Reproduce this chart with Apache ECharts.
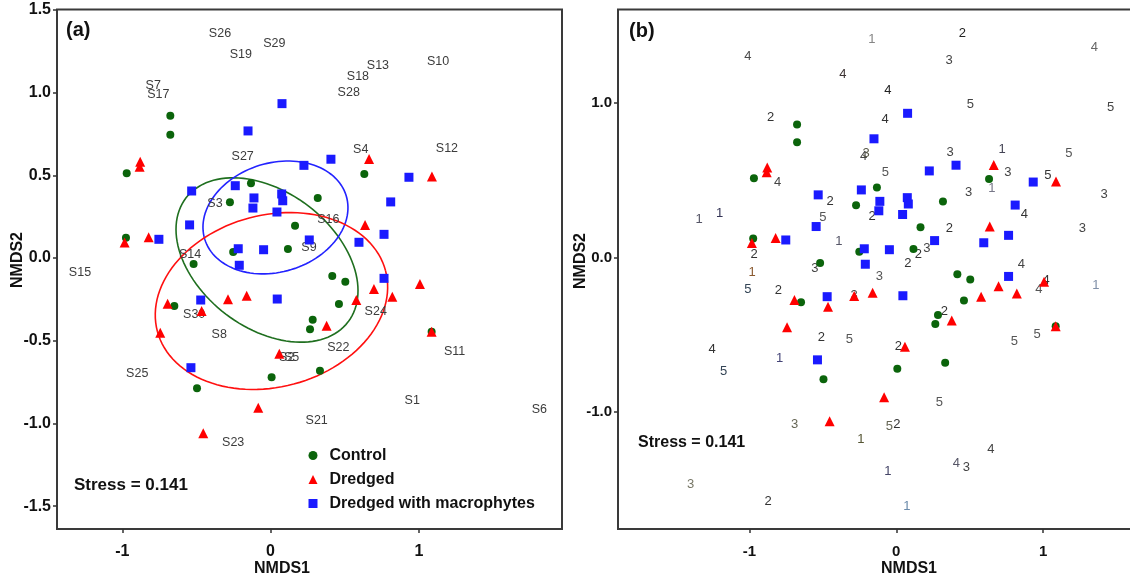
<!DOCTYPE html>
<html><head><meta charset="utf-8">
<script src="https://cdn.jsdelivr.net/npm/echarts@6/dist/echarts.min.js"></script>
<style>html,body{margin:0;padding:0;background:#fff}#c{width:1130px;height:581px}</style>
</head><body><div id="c"></div>
<script>
// ---- site scores (shared by both panels) ----
const controlX = [-0.676,-0.676,-0.970,-0.132,0.632,-0.274,0.318,0.165,-0.975,-0.252,0.117,-0.519,0.416,0.504,0.461,-0.649,0.284,0.266,1.086,0.007,0.333,-0.496];
const controlY = [0.860,0.745,0.512,0.452,0.508,0.337,0.362,0.195,0.123,0.036,0.054,-0.036,-0.109,-0.143,-0.278,-0.290,-0.373,-0.431,-0.446,-0.721,-0.681,-0.788];
const dredgedX = [-0.879,-0.883,0.664,1.088,0.637,-0.984,-0.822,1.007,0.697,0.821,0.578,-0.694,-0.287,-0.161,-0.465,0.378,1.086,-0.744,0.059,-0.083,-0.454];
const dredgedY = [0.582,0.552,0.599,0.492,0.200,0.093,0.125,-0.157,-0.187,-0.234,-0.254,-0.276,-0.250,-0.228,-0.320,-0.409,-0.446,-0.452,-0.579,-0.905,-1.060];
const macroX = [0.077,-0.152,0.407,0.225,0.933,-0.532,-0.238,-0.112,-0.119,0.075,0.082,0.043,0.810,-0.546,0.765,0.596,0.261,-0.753,-0.218,-0.047,-0.211,0.765,-0.471,0.045,-0.537];
const macroY = [0.933,0.768,0.597,0.560,0.488,0.405,0.437,0.363,0.302,0.387,0.346,0.278,0.339,0.200,0.143,0.095,0.109,0.113,0.056,0.050,-0.044,-0.123,-0.254,-0.248,-0.663];

// ---- group ellipses (centre + two conjugate semi-axis vectors, data units) ----
const ellipseGroup = ['Control','Dredged with macrophytes','Dredged'];
const ellipseCX = [-0.024, 0.033, 0.006];
const ellipseCY = [-0.012, 0.245, -0.260];
const ellipseUX = [0.547, 0.477, 0.769];
const ellipseUY = [-0.374, 0.131, 0.184];
const ellipseVX = [-0.278, 0.107, 0.150];
const ellipseVY = [-0.327, -0.315, -0.502];

// ---- species scores, panel (a) ----
const speciesName = ['S26','S29','S19','S7','S17','S27','S13','S10','S18','S28','S4','S12','S3','S14','S15','S30','S8','S25','S2','S5','S16','S9','S24','S22','S11','S21','S1','S6','S23'];
const speciesX = [-0.341,0.025,-0.200,-0.791,-0.757,-0.188,0.724,1.129,0.589,0.527,0.608,1.189,-0.375,-0.543,-1.285,-0.515,-0.346,-0.899,0.109,0.142,0.389,0.259,0.709,0.457,1.241,0.311,0.955,1.812,-0.252];
const speciesY = [1.359,1.296,1.232,1.042,0.990,0.615,1.163,1.189,1.099,1.002,0.653,0.659,0.331,0.020,-0.085,-0.343,-0.464,-0.701,-0.603,-0.603,0.234,0.065,-0.326,-0.540,-0.568,-0.985,-0.859,-0.915,-1.114];

// ---- trait class labels, panel (b) ----
const classText = ['4','4','2','4','2','1','2','4','3','4','5','5','4','1','5','3','4','3','5','3','5','1','3','3','5','1','1','1','2','1','3','5','2','2','5','4','1','5','2','4','2','3','3','2','2','4','3','4','4','1','3','2','5','5','2','3','3','2','5','5','2','1','4','4','3','1','1'];
const classX = [-1.011,-0.364,-0.857,-0.809,-0.450,-0.166,0.451,1.350,0.360,-0.057,0.505,1.461,-0.076,0.721,1.175,0.367,-0.223,-0.205,-0.074,0.760,1.032,0.651,0.492,1.416,-0.500,-1.344,-1.204,-0.391,-0.968,-0.983,-0.554,-1.011,-0.804,-0.511,-0.319,-1.254,-0.795,-1.176,-0.165,0.873,0.362,1.268,0.208,0.151,0.079,0.852,-0.116,1.021,0.971,1.359,-0.287,0.328,0.805,0.959,0.015,-0.693,-1.401,-0.874,0.294,-0.048,0.004,-0.241,0.644,0.410,0.478,-0.057,0.072];
const classY = [1.304,1.187,0.907,0.484,0.360,1.409,1.450,1.362,1.273,1.079,0.993,0.972,0.895,0.702,0.672,0.680,0.656,0.671,0.553,0.549,0.528,0.448,0.422,0.408,0.258,0.248,0.287,0.103,0.020,-0.098,-0.070,-0.204,-0.211,-0.517,-0.530,-0.595,-0.656,-0.740,0.263,0.279,0.190,0.190,0.056,0.022,-0.039,-0.047,-0.122,-0.146,-0.206,-0.184,-0.243,-0.350,-0.544,-0.500,-0.576,-1.083,-1.469,-1.582,-0.937,-1.094,-1.078,-1.180,-1.240,-1.331,-1.361,-1.387,-1.612];
// text colour of each panel (b) label (style list)
const classColor = ['#4a4a4a','#3d3333','#333','#444','#333','#858585','#222','#666','#444','#222','#444','#444','#333','#445','#555','#444','#444','#554','#555','#444','#333','#778','#444','#444','#555','#556','#335','#556','#333','#8a5a30','#444','#345','#333','#333','#555','#333','#447','#345','#333','#333','#333','#444','#444','#333','#333','#444','#555','#333','#555','#8090a8','#444','#333','#555','#555','#333','#665','#776','#333','#555','#665','#333','#553','#444','#556','#444','#446','#6a8aaa'];

const ticksA_X = [-1, 0, 1];
const ticksA_Y = [-1.5, -1.0, -0.5, 0.0, 0.5, 1.0, 1.5];
const ticksB_X = [-1, 0, 1];
const ticksB_Y = [-1.0, 0.0, 1.0];

const stressText = 'Stress = 0.141';

// ------------------------------------------------------------
const FONT = '"Liberation Sans", Arial, sans-serif';
const GREEN = '#0b640b', RED = '#ff0000', BLUE = '#1a1aff';
const ELL_COL = {'Control':'#1f6f1f','Dredged with macrophytes':'#2323ff','Dredged':'#ff1010'};

const pairs = (xs, ys) => xs.map((x, i) => [x, ys[i]]);

function makeAxes(gi, xmin, xmax, ymin, ymax, tx, ty, fs, yDigits) {
  const tickStyle = {show: true, inside: false, length: 4, lineStyle: {color: '#333', width: 1.5}};
  return {
    x: {gridIndex: gi, type: 'value', position: 'bottom', min: xmin, max: xmax, splitLine: {show: false},
        axisLine: {show: false, onZero: false},
        axisTick: Object.assign({customValues: tx}, tickStyle),
        axisLabel: {customValues: tx, fontFamily: FONT, fontSize: fs, fontWeight: 'bold', color: '#111', margin: 15,
                    formatter: v => String(Math.round(v))}},
    y: {gridIndex: gi, type: 'value', position: 'left', min: ymin, max: ymax, splitLine: {show: false},
        axisLine: {show: false, onZero: false},
        axisTick: Object.assign({customValues: ty}, tickStyle),
        axisLabel: {customValues: ty, fontFamily: FONT, fontSize: fs, fontWeight: 'bold', color: '#111', margin: 6,
                    formatter: v => Number(v).toFixed(yDigits)}}
  };
}
const axA = makeAxes(0, -1.440, 1.965, -1.638, 1.502, ticksA_X, ticksA_Y, 16, 1);
const axB = makeAxes(1, -1.896, 2.042, -1.758, 1.605, ticksB_X, ticksB_Y, 15, 1);

function scatterSeries(gi, name, xs, ys, symbol, size, color) {
  return {type: 'scatter', name, xAxisIndex: gi, yAxisIndex: gi, data: pairs(xs, ys),
          symbol, symbolSize: size, itemStyle: {color, opacity: 1}, z: 5, silent: true};
}
function textSeries(gi, names, xs, ys, colorFn, fs) {
  return {type: 'custom', xAxisIndex: gi, yAxisIndex: gi, data: pairs(xs, ys), z: 4, silent: true,
    encode: {x: 0, y: 1},
    renderItem: (params, api) => {
      const p = api.coord([api.value(0), api.value(1)]);
      return {type: 'text', x: p[0], y: p[1],
              style: {text: names[params.dataIndex], fill: colorFn(params.dataIndex), fontFamily: FONT,
                      fontSize: fs, align: 'center', verticalAlign: 'middle'}};
    }};
}
const ellipseSeries = {
  type: 'custom', xAxisIndex: 0, yAxisIndex: 0, z: 3, silent: true,
  data: ellipseGroup.map((g, i) => [ellipseCX[i], ellipseCY[i], ellipseUX[i], ellipseUY[i], ellipseVX[i], ellipseVY[i]]),
  encode: {x: 0, y: 1},
  renderItem: (params, api) => {
    const cx = api.value(0), cy = api.value(1), ux = api.value(2), uy = api.value(3), vx = api.value(4), vy = api.value(5);
    const pts = [];
    for (let k = 0; k <= 120; k++) {
      const t = k / 120 * Math.PI * 2;
      pts.push(api.coord([cx + ux * Math.cos(t) + vx * Math.sin(t), cy + uy * Math.cos(t) + vy * Math.sin(t)]));
    }
    return {type: 'polyline', shape: {points: pts},
            style: {stroke: ELL_COL[ellipseGroup[params.dataIndex]], fill: null, lineWidth: 1.6}};
  }
};

const gridCommon = {show: true, borderColor: '#3a3a3a', borderWidth: 2, backgroundColor: 'transparent', containLabel: false, outerBoundsMode: 'none'};
const txt = (t, x, y, size, bold, align, rot) => ({type: 'text', x, y, rotation: rot || 0,
  style: {text: t, fontFamily: FONT, fontSize: size, fontWeight: bold ? 'bold' : 'normal', fill: '#111', align: align || 'left', verticalAlign: 'middle'}});

const option = {
  animation: false,
  backgroundColor: '#fff',
  grid: [
    Object.assign({left: 57, top: 9.5, width: 505, height: 519.5}, gridCommon),
    Object.assign({left: 618, top: 9.5, width: 578, height: 519.5}, gridCommon)
  ],
  xAxis: [axA.x, axB.x],
  yAxis: [axA.y, axB.y],
  legend: {
    show: true, orient: 'vertical', left: 303.5, top: 442.5, itemWidth: 9, itemHeight: 9, itemGap: 8,
    selectedMode: false,
    textStyle: {fontFamily: FONT, fontSize: 16, fontWeight: 'bold', color: '#111', lineHeight: 16, padding: [0, 0, 0, 7]},
    data: [
      {name: 'Control', icon: 'circle', itemStyle: {color: GREEN}},
      {name: 'Dredged', icon: 'triangle', itemStyle: {color: RED}},
      {name: 'Dredged with macrophytes', icon: 'rect', itemStyle: {color: BLUE}}
    ]
  },
  series: [
    ellipseSeries,
    textSeries(0, speciesName, speciesX, speciesY, () => '#3c3c3c', 12.5),
    scatterSeries(0, 'Control', controlX, controlY, 'circle', 8, GREEN),
    scatterSeries(0, 'Dredged', dredgedX, dredgedY, 'triangle', 10, RED),
    scatterSeries(0, 'Dredged with macrophytes', macroX, macroY, 'rect', 9, BLUE),
    textSeries(1, classText, classX, classY, i => classColor[i], 13),
    scatterSeries(1, 'Control', controlX, controlY, 'circle', 8, GREEN),
    scatterSeries(1, 'Dredged', dredgedX, dredgedY, 'triangle', 10, RED),
    scatterSeries(1, 'Dredged with macrophytes', macroX, macroY, 'rect', 9, BLUE)
  ],
  graphic: [
    txt('(a)', 66, 30, 20, true),
    txt('(b)', 629, 31, 20, true),
    txt(stressText, 74, 485, 17, true),
    txt(stressText, 638, 443, 16, true),
    txt('NMDS1', 282, 569, 16, true, 'center'),
    txt('NMDS1', 909, 569, 16, true, 'center'),
    txt('NMDS2', 18, 260, 16, true, 'center', Math.PI / 2),
    txt('NMDS2', 581, 261, 16, true, 'center', Math.PI / 2)
  ]
};
const chart = echarts.init(document.getElementById('c'), null, {renderer: 'canvas'});
chart.setOption(option);
</script></body></html>
